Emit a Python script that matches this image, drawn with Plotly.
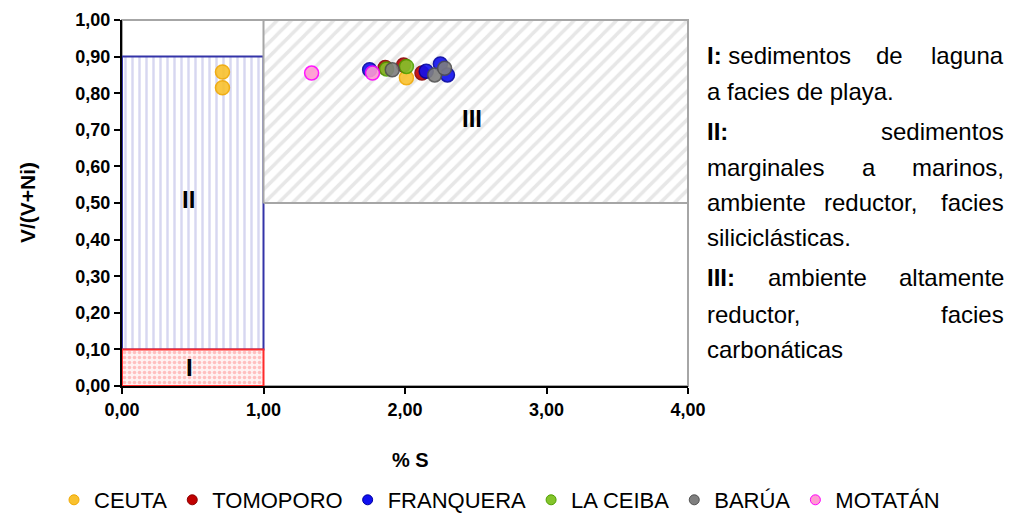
import plotly.graph_objects as go

# ---- data: % S (x) versus V/(V+Ni) (y) for each locality ----
ceuta_x = [0.71, 0.71, 2.01]
ceuta_y = [0.858, 0.815, 0.842]
tomoporo_x = [1.86, 1.99, 2.12]
tomoporo_y = [0.870, 0.877, 0.855]
franquera_x = [1.75, 2.15, 2.25, 2.30]
franquera_y = [0.864, 0.860, 0.880, 0.850]
laceiba_x = [1.87, 2.01]
laceiba_y = [0.866, 0.873]
barua_x = [1.91, 2.21, 2.28]
barua_y = [0.864, 0.850, 0.868]
motatan_x = [1.34, 1.77]
motatan_y = [0.855, 0.855]

series_names = ["CEUTA", "TOMOPORO", "FRANQUERA", "LA CEIBA", "BARÚA", "MOTATÁN"]
series_x = [ceuta_x, tomoporo_x, franquera_x, laceiba_x, barua_x, motatan_x]
series_y = [ceuta_y, tomoporo_y, franquera_y, laceiba_y, barua_y, motatan_y]
fill_colors = ["#F9C12E", "#C00000", "#1010F0", "#84C42B", "#7F7F7F", "#FF9AD0"]
edge_colors = ["#F0A800", "#8A0000", "#0000A0", "#4FA000", "#505050", "#FF00FF"]

# ---- interpretation fields (x0, x1, y0, y1) ----
field_I = [0.0, 1.0, 0.0, 0.1]
field_II = [0.0, 1.0, 0.1, 0.9]
field_III = [1.0, 4.0, 0.5, 1.0]
field_labels = ["I", "II", "III"]
field_label_x = [0.48, 0.47, 2.47]
field_label_y = [0.05, 0.51, 0.73]

x_ticks = [0, 1, 2, 3, 4]
y_ticks = [0.0, 0.1, 0.2, 0.3, 0.4, 0.5, 0.6, 0.7, 0.8, 0.9, 1.0]

W, H = 1015, 516
L, R, T, B = 122, 688, 20, 386  # plot area in pixels


def px_x(p):
    return (p - L) / (R - L)


def px_y(p):
    return (B - p) / (B - T)


def rect_path(b):
    x0, x1, y0, y1 = b
    return [x0, x1, x1, x0, x0], [y0, y0, y1, y1, y0]


fig = go.Figure()

# plot-area frame
fig.add_shape(type="rect", xref="x domain", yref="y domain", x0=0, x1=1, y0=0, y1=1,
              line=dict(color="#A6A6A6", width=2), layer="below")

# field II: vertical lines
xs, ys = rect_path(field_II)
fig.add_trace(go.Scatter(x=xs, y=ys, mode="lines", fill="toself", showlegend=False,
                         hoverinfo="skip", line=dict(color="#3434A8", width=2),
                         fillcolor="rgba(0,0,0,0)",
                         fillpattern=dict(shape="|", fgcolor="#AFAFE2", bgcolor="white",
                                          size=7, solidity=0.35)))
# field I: dots
xs, ys = rect_path(field_I)
fig.add_trace(go.Scatter(x=xs, y=ys, mode="lines", fill="toself", showlegend=False,
                         hoverinfo="skip", line=dict(color="#FF2A2A", width=2),
                         fillcolor="rgba(0,0,0,0)",
                         fillpattern=dict(shape=".", fgcolor="#FF8C8C", bgcolor="#FFF2F2",
                                          size=5, solidity=0.4)))
# field III: diagonal hatch
xs, ys = rect_path(field_III)
fig.add_trace(go.Scatter(x=xs, y=ys, mode="lines", fill="toself", showlegend=False,
                         hoverinfo="skip", line=dict(color="#A6A6A6", width=2),
                         fillcolor="rgba(0,0,0,0)",
                         fillpattern=dict(shape="/", fgcolor="#CFCFCF", bgcolor="white",
                                          size=10, solidity=0.35)))

# samples
for name, x, y, fc, ec in zip(series_names, series_x, series_y, fill_colors, edge_colors):
    fig.add_trace(go.Scatter(x=x, y=y, mode="markers", name=name, showlegend=False,
                             legendgroup=name,
                             marker=dict(size=14, color=fc, opacity=0.9,
                                         line=dict(color=ec, width=1.5))))
# legend entries
for name, fc, ec in zip(series_names, fill_colors, edge_colors):
    fig.add_trace(go.Scatter(x=[None], y=[None], mode="markers", name=name,
                             legendgroup=name,
                             marker=dict(size=10, color=fc, line=dict(color=ec, width=1))))

# field labels
for lab, lx, ly in zip(field_labels, field_label_x, field_label_y):
    fig.add_annotation(x=lx, y=ly, text=f"<b>{lab}</b>", showarrow=False,
                       xanchor="center", yanchor="middle",
                       font=dict(size=24, color="black", family="Arial"))

# axis titles
fig.add_annotation(xref="paper", yref="paper", x=px_x(27), y=px_y(203),
                   text="<b>V/(V+Ni)</b>", textangle=-90, showarrow=False,
                   xanchor="center", yanchor="middle",
                   font=dict(size=21, color="black", family="Arial"))
fig.add_annotation(xref="paper", yref="paper", x=px_x(410), y=px_y(460),
                   text="<b>% S</b>", showarrow=False, xanchor="center", yanchor="middle",
                   font=dict(size=20, color="black", family="Arial"))

# side text, justified between 705 and 1005 px
tf = dict(size=24, color="black", family="Arial")
side_words = [
    # (text, x px, anchor, y px)
    ("<b>I:</b> sedimentos", 705, "left", 55), ("de", 889, "center", 55), ("laguna", 1006, "right", 55),
    ("a facies de playa.", 705, "left", 91),
    ("<b>II:</b>", 705, "left", 131), ("sedimentos", 1006, "right", 131),
    ("marginales", 705, "left", 167), ("a", 869, "center", 167), ("marinos,", 1006, "right", 167),
    ("ambiente", 705, "left", 202), ("reductor,", 870, "center", 202), ("facies", 1006, "right", 202),
    ("siliciclásticas.", 705, "left", 237),
    ("<b>III:</b>", 705, "left", 277), ("ambiente", 817, "center", 277), ("altamente", 1006, "right", 277),
    ("reductor,", 705, "left", 314), ("facies", 1006, "right", 314),
    ("carbonáticas", 705, "left", 349),
]
for txt, xp, anc, yp in side_words:
    fig.add_annotation(xref="paper", yref="paper", x=px_x(xp), y=px_y(yp), text=txt,
                       xanchor=anc, yanchor="middle", showarrow=False, font=tf)

axis_common = dict(showgrid=False, zeroline=False, showline=True, linecolor="black",
                   linewidth=2, ticks="outside", ticklen=6, tickcolor="black", tickwidth=2,
                   tickfont=dict(size=18, color="black", family="Arial", weight="bold"),
                   tickformat=".2f")

fig.update_layout(
    width=W, height=H, autosize=False,
    margin=dict(l=L, r=W - R, t=T, b=H - B, autoexpand=False),
    paper_bgcolor="white", plot_bgcolor="white",
    separators=",.",
    showlegend=True,
    legend=dict(orientation="h", x=px_x(945), y=px_y(500),
                xanchor="right", yanchor="middle",
                font=dict(size=22, color="black", family="Arial"),
                itemclick=False, tracegroupgap=0),
    xaxis=dict(range=[0, 4], tickvals=x_ticks, **axis_common),
    yaxis=dict(range=[0, 1], tickvals=y_ticks, **axis_common),
)

fig.write_html("out.html")
